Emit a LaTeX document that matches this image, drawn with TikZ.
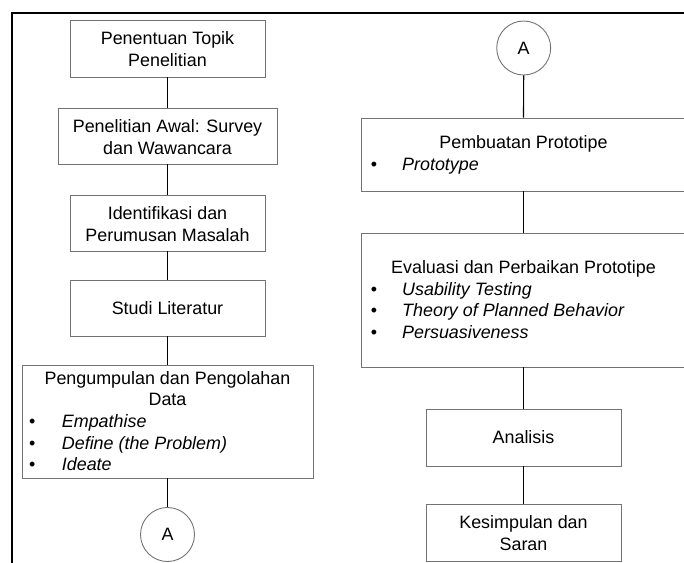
\documentclass[tikz,border=0pt]{standalone}
\usepackage{fontspec}
\setmainfont{Liberation Sans}
\begin{document}
\begin{tikzpicture}[x=1pt,y=-1pt,
  box/.style={draw=black!55, line width=0.9pt, rectangle, inner sep=0pt},
  conbox/.style={draw=black!55, line width=0.9pt, circle, inner sep=0pt, minimum size=54pt,
                 font=\fontsize{17.9}{21.7}\selectfont},
  conn/.style={draw=black, line width=1.2pt},
  txt/.style={anchor=base, inner sep=0pt, font=\fontsize{17.9}{21.7}\selectfont},
  itm/.style={anchor=base west, inner sep=0pt, font=\fontsize{17.9}{21.7}\selectfont\itshape},
  frame/.style={draw=black, line width=2pt}]
\useasboundingbox (0,0) rectangle (684,562);
\clip (0,0) rectangle (684,562);
% frame
\draw[frame] (12,563) -- (12,13) -- (685,13);
% left column boxes
\node[box, minimum width=195pt, minimum height=57pt] (b1) at (167.5,48.5) {};
\node[box, minimum width=219pt, minimum height=56pt] (b2) at (167.5,136) {};
\node[box, minimum width=195pt, minimum height=56pt] (b3) at (167.5,223) {};
\node[box, minimum width=195pt, minimum height=56pt] (b4) at (167.5,308) {};
\node[box, minimum width=291pt, minimum height=113pt] (b5) at (167.5,421.5) {};
\node[conbox] (ca1) at (167.5,534.5) {A};
% right column
\node[conbox] (ca2) at (523.7,48) {A};
\node[box, minimum width=325pt, minimum height=73pt] (p) at (523.5,154.5) {};
\node[box, minimum width=325pt, minimum height=134pt] (e) at (523.5,300) {};
\node[box, minimum width=195pt, minimum height=57pt] (an) at (523.5,437.5) {};
\node[box, minimum width=195pt, minimum height=57pt] (ks) at (523.5,532.5) {};
% connectors
\draw[conn] (b1) -- (b2);
\draw[conn] (b2) -- (b3);
\draw[conn] (b3) -- (b4);
\draw[conn] (b4) -- (b5);
\draw[conn] (b5) -- (ca1);
\draw[conn] (ca2) -- (p);
\draw[conn] (p) -- (e);
\draw[conn] (e) -- (an);
\draw[conn] (an) -- (ks);
% texts left
\node[txt] (t1a) at (167.5,44.85) {Penentuan Topik};
\node[txt] (t1b) at (167.5,66.55) {Penelitian};
\node[txt] (t2a) at (167.5,132.35) {Penelitian Awal: Survey};
\node[txt] (t2b) at (167.5,154.05) {dan Wawancara};
\node[txt] (t3a) at (167.5,219.35) {Identifikasi dan};
\node[txt] (t3b) at (167.5,241.05) {Perumusan Masalah};
\node[txt] (t4) at (167.5,314.2) {Studi Literatur};
\node[txt] (t5a) at (167.5,384.3) {Pengumpulan dan Pengolahan};
\node[txt] (t5b) at (167.5,405.9) {Data};
\node[txt] (t5d1) at (32.3,427.5) {•};
\node[itm] (t5i1) at (61.7,427.5) {Empathise};
\node[txt] (t5d2) at (32.3,449) {•};
\node[itm] (t5i2) at (61.7,449) {Define (the Problem)};
\node[txt] (t5d3) at (32.3,470.7) {•};
\node[itm] (t5i3) at (61.7,470.7) {Ideate};
% texts right
\node[txt] (tpa) at (523.5,148.5) {Pembuatan Prototipe};
\node[txt] (tpd) at (374,170) {•};
\node[itm] (tpi) at (402,170) {Prototype};
\node[txt] (tea) at (523.5,273.5) {Evaluasi dan Perbaikan Prototipe};
\node[txt] (ted1) at (374,295.2) {•};
\node[itm] (tei1) at (402,295.2) {Usability Testing};
\node[txt] (ted2) at (374,316.8) {•};
\node[itm] (tei2) at (402,316.8) {Theory of Planned Behavior};
\node[txt] (ted3) at (374,338.5) {•};
\node[itm] (tei3) at (402,338.5) {Persuasiveness};
\node[txt] (tan) at (523.5,443.7) {Analisis};
\node[txt] (tksa) at (523.5,528.85) {Kesimpulan dan};
\node[txt] (tksb) at (523.5,550.55) {Saran};
\end{tikzpicture}
\end{document}
